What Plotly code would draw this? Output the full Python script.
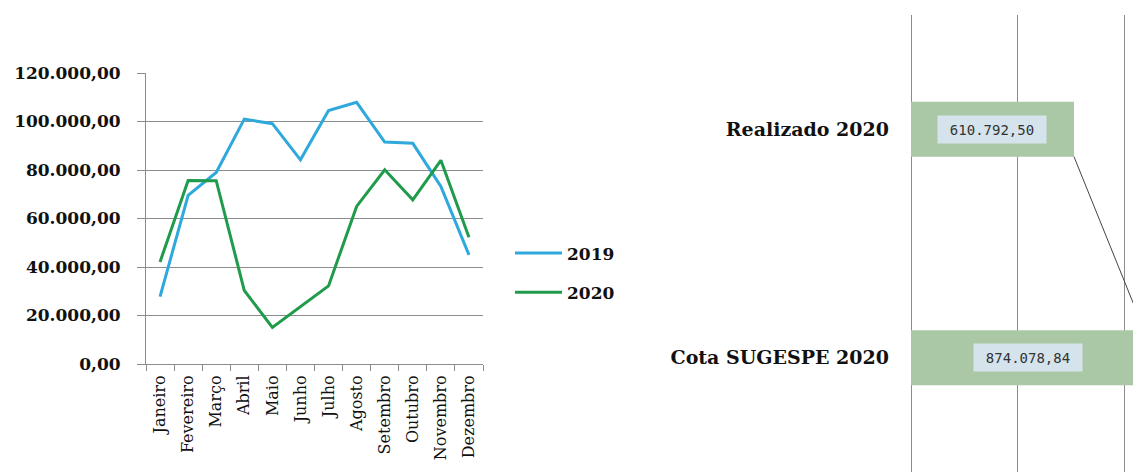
import plotly.graph_objects as go

months = ["Janeiro", "Fevereiro", "Março", "Abril", "Maio", "Junho", "Julho",
          "Agosto", "Setembro", "Outubro", "Novembro", "Dezembro"]
vals_2019 = [27800, 69500, 79000, 101000, 99100, 84200, 104500, 107900, 91500, 91000, 73200, 45000]
vals_2020 = [42100, 75700, 75600, 30300, 15100, 23700, 32200, 65000, 80100, 67700, 84000, 52300]

bar_cats = ["Cota SUGESPE 2020", "Realizado 2020"]
bar_vals = [874078.84, 610792.50]
bar_text = ["874.078,84", "610.792,50"]

W, H = 1133, 472
def px(x):
    return x / W
def py(y):
    return 1 - y / H

BLUE = "#2fa8dc"
GREEN = "#1f9b4b"
GRID = "#8c8c8c"
SERIF = "DejaVu Serif"

fig = go.Figure()
fig.add_trace(go.Scatter(x=months, y=vals_2019, mode="lines", name="2019",
                         line=dict(color=BLUE, width=3), legendgroup="a"))
fig.add_trace(go.Scatter(x=months, y=vals_2020, mode="lines", name="2020",
                         line=dict(color=GREEN, width=3), legendgroup="b"))

BW = 0.24
fig.add_trace(go.Bar(y=bar_cats, x=bar_vals, orientation="h", width=BW,
                     marker=dict(color="#aac8a5", line=dict(width=0)),
                     xaxis="x2", yaxis="y2", showlegend=False, hoverinfo="skip"))

for i, (v, t) in enumerate(zip(bar_vals, bar_text)):
    fig.add_annotation(x=v / 2, y=bar_cats[i], xref="x2", yref="y2", text=t,
                       showarrow=False, bgcolor="#d5e4ec", width=106, height=25,
                       font=dict(family="DejaVu Sans Mono", size=14, color="#333333"))

# series connector line between bar ends
fig.add_shape(type="line", xref="x2", yref="y2",
              x0=bar_vals[1], y0=1 - BW / 2, x1=bar_vals[0], y1=0 + BW / 2,
              line=dict(color="#444444", width=1))

fig.update_layout(
    template="none",
    width=W, height=H, margin=dict(l=0, r=0, t=0, b=0, autoexpand=False),
    paper_bgcolor="white", plot_bgcolor="white",
    separators=",.",
    showlegend=True,
    legend=dict(x=px(510), y=py(273), xanchor="left", yanchor="middle",
                font=dict(family=SERIF, size=17, color="#111111", weight="bold"),
                traceorder="grouped", tracegroupgap=14, itemwidth=47,
                bgcolor="rgba(0,0,0,0)", borderwidth=0),
    xaxis=dict(domain=[px(146), px(483)], type="category", range=[-0.5, 11.5],
               automargin=False,
               showline=True, linecolor=GRID, linewidth=1,
               ticks="outside", ticklen=6, tickcolor=GRID, tickson="boundaries",
               tickangle=-90, showgrid=False, zeroline=False, ticklabelstandoff=4,
               tickfont=dict(family=SERIF, size=16, color="#111111")),
    yaxis=dict(domain=[py(364), py(73)], range=[0, 120000], dtick=20000,
               automargin=False,
               tickformat=",.2f", showline=True, linecolor=GRID, linewidth=1,
               ticks="outside", ticklen=8, tickcolor=GRID,
               showgrid=True, gridcolor=GRID, gridwidth=1, zeroline=False,
               ticklabelstandoff=13,
               tickfont=dict(family=SERIF, size=17, color="#111111", weight="bold")),
    xaxis2=dict(domain=[px(911), 1.0], anchor="y2", range=[0, 832000], dtick=400000,
                automargin=False,
                showgrid=True, gridcolor=GRID, gridwidth=1, showticklabels=False,
                zeroline=True, zerolinecolor=GRID, zerolinewidth=1, showline=False),
    yaxis2=dict(domain=[0, py(15)], anchor="x2", type="category",
                automargin=False,
                categoryorder="array", categoryarray=bar_cats, range=[-0.5, 1.5],
                showgrid=False, showline=False, ticks="", ticklabelstandoff=21,
                zeroline=False,
                tickfont=dict(family=SERIF, size=19, color="#111111", weight="bold")),
)

fig.write_html("out.html")
